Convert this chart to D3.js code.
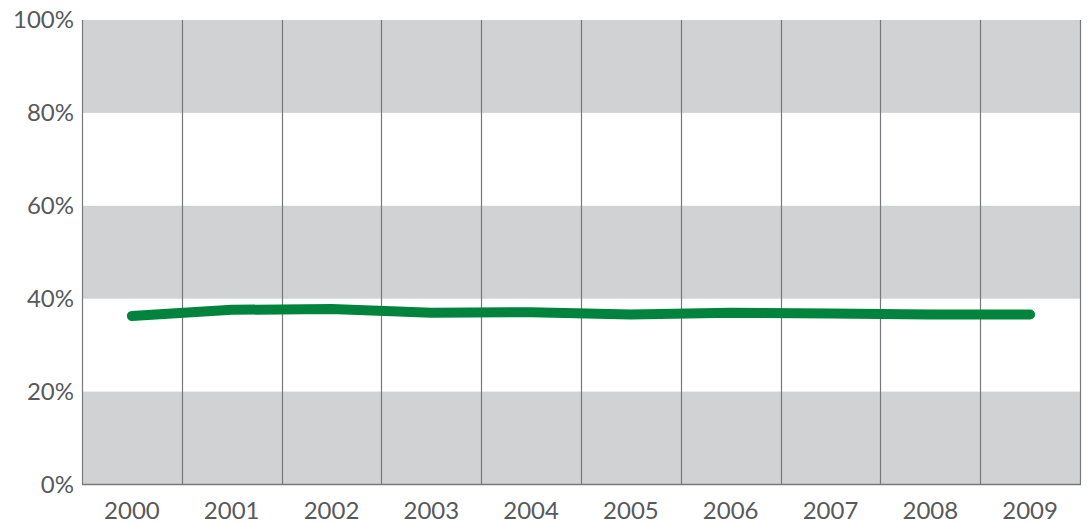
<!DOCTYPE html>
<html>
<head>
<meta charset="utf-8">
<script src="https://cdn.jsdelivr.net/npm/d3@7"></script>
<style>
  body { margin: 0; background: #fff; }
  svg { display: block; }
  .tick text { font-family: Lato, "Open Sans", sans-serif; fill: #58595b; }
</style>
</head>
<body>
<div id="chart"></div>
<script>
const years = ["2000", "2001", "2002", "2003", "2004", "2005", "2006", "2007", "2008", "2009"];
const share = [36.3, 37.6, 37.8, 37.0, 37.1, 36.6, 37.0, 36.8, 36.6, 36.6];
const yTicks = [0, 20, 40, 60, 80, 100];
const bands = [[0, 20], [40, 60], [80, 100]];

const width = 1089, height = 524;
const margin = {top: 20, right: 9, bottom: 39.5, left: 82};

const svg = d3.select("#chart").append("svg")
  .attr("width", width)
  .attr("height", height);

const x = d3.scaleBand()
  .domain(years)
  .range([margin.left, width - margin.right]);

const y = d3.scaleLinear()
  .domain([0, 100])
  .range([height - margin.bottom, margin.top]);

// gray bands
svg.append("g")
  .selectAll("rect")
  .data(bands)
  .enter()
  .append("rect")
  .attr("x", margin.left)
  .attr("width", width - margin.right - margin.left)
  .attr("y", d => y(d[1]))
  .attr("height", d => y(d[0]) - y(d[1]))
  .attr("fill", "#d1d2d4");

// vertical separators
const seps = years.map(d => x(d)).concat(x.range()[1]);
svg.append("g")
  .selectAll("line")
  .data(seps)
  .enter()
  .append("line")
  .attr("x1", d => Math.round(d) + 0.5)
  .attr("x2", d => Math.round(d) + 0.5)
  .attr("y1", y(100))
  .attr("y2", y(0))
  .attr("stroke", "#77787b")
  .attr("stroke-width", 1.2);

// bottom axis line
svg.append("line")
  .attr("x1", margin.left)
  .attr("x2", width - margin.right + 1)
  .attr("y1", y(0))
  .attr("y2", y(0))
  .attr("stroke", "#77787b")
  .attr("stroke-width", 1.5);

const xAxis = d3.axisBottom(x).tickSize(0).tickPadding(17);
svg.append("g")
  .attr("transform", `translate(0, ${y(0)})`)
  .call(xAxis)
  .call(g => g.select(".domain").remove())
  .selectAll("text")
  .style("font-size", "24px");

const yAxis = d3.axisLeft(y)
  .tickValues(yTicks)
  .tickFormat(d => d + "%")
  .tickSize(0)
  .tickPadding(8);
svg.append("g")
  .attr("transform", `translate(${margin.left}, 0)`)
  .call(yAxis)
  .call(g => g.select(".domain").remove())
  .selectAll("text")
  .style("font-size", "24px");

// the series line
const line = d3.line()
  .x((d, i) => x(years[i]) + x.bandwidth() / 2)
  .y(d => y(d));

svg.append("path")
  .datum(share)
  .attr("fill", "none")
  .attr("stroke", "#00843d")
  .attr("stroke-width", 10)
  .attr("stroke-linecap", "round")
  .attr("stroke-linejoin", "round")
  .attr("d", line);
</script>
</body>
</html>
